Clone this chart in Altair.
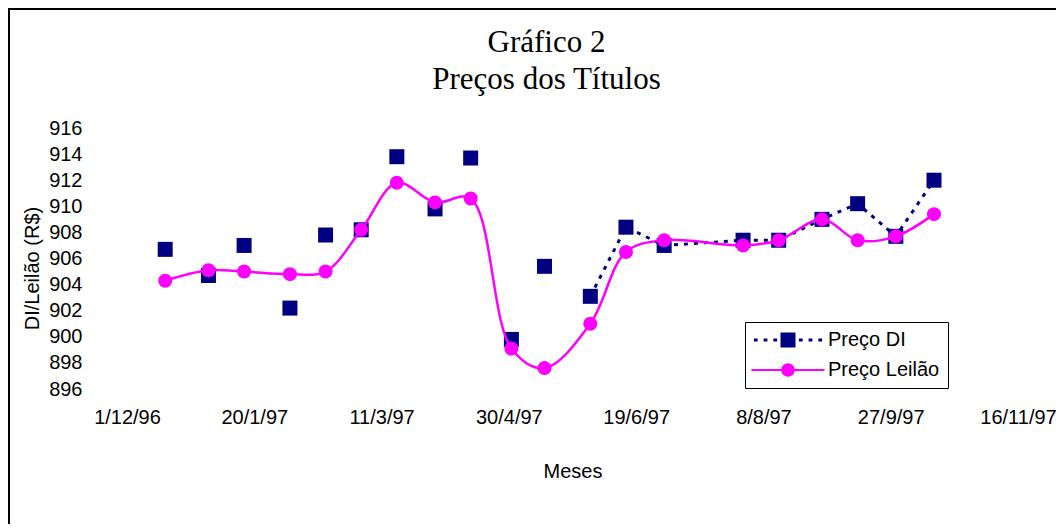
import math
import altair as alt
import pandas as pd

# ---- data ----
datas = ["1996-12-16", "1997-01-02", "1997-01-16", "1997-02-03", "1997-02-17",
         "1997-03-03", "1997-03-17", "1997-04-01", "1997-04-15", "1997-05-01",
         "1997-05-14", "1997-06-01", "1997-06-15", "1997-06-30", "1997-07-31",
         "1997-08-14", "1997-08-31", "1997-09-14", "1997-09-29", "1997-10-14"]
preco_di = [906.7, 904.7, 907.0, 902.2, 907.8, 908.2, 913.8, 909.8, 913.7, 899.8,
            905.4, 903.1, 908.4, 907.0, 907.4, 907.4, 909.0, 910.2, 907.7, 912.0]
preco_leilao = [904.3, 905.1, 905.0, 904.8, 905.0, 908.2, 911.8, 910.3, 910.6, 899.1,
                897.6, 901.0, 906.5, 907.4, 907.0, 907.4, 909.0, 907.4, 907.7, 909.4]
series = ["Preço DI", "Preço Leilão"]
cores = ["#000080", "#FF00FF"]
ticks_x = ["1996-12-01", "1997-01-20", "1997-03-11", "1997-04-30",
           "1997-06-19", "1997-08-08", "1997-09-27", "1997-11-16"]
ticks_y = list(range(896, 917, 2))
inicio_linha_di = "1997-06-01"


def dt(s):
    y, m, d = (int(v) for v in s.split("-"))
    return alt.DateTime(year=y, month=m, date=d, utc=True)


df_di = pd.DataFrame({"data": datas, "valor": preco_di})
df_le = pd.DataFrame({"data": datas, "valor": preco_leilao})
df_di_linha = df_di[df_di["data"] >= inicio_linha_di]

FONT = "Liberation Sans"

x_enc = alt.X(
    "data:T",
    scale=alt.Scale(type="utc", domain=[dt(ticks_x[0]), dt(ticks_x[-1])]),
    axis=alt.Axis(values=[dt(t) for t in ticks_x], format="%-d/%-m/%y", title="Meses",
                  labelFont=FONT, labelFontSize=20, labelColor="black",
                  titleFont=FONT, titleFontSize=20, titleFontWeight="normal", titleColor="black",
                  domain=False, ticks=False, grid=False, labelPadding=18, titlePadding=34,
                  labelOverlap=False, labelFlush=False),
)
y_enc = alt.Y(
    "valor:Q",
    scale=alt.Scale(domain=[896, 916], nice=False, zero=False),
    axis=alt.Axis(values=ticks_y, format="d", title="DI/Leilão (R$)",
                  labelFont=FONT, labelFontSize=20, labelColor="black",
                  titleFont=FONT, titleFontSize=20, titleFontWeight="normal", titleColor="black",
                  domain=False, ticks=False, grid=False, labelPadding=45, titlePadding=6,
                  titleY=140, labelOverlap=False),
)

linha_di = alt.Chart(df_di_linha).mark_line(
    color=cores[0], strokeWidth=3, strokeDash=[4, 6]
).encode(x=x_enc, y=y_enc)

pontos_di = alt.Chart(df_di).mark_point(
    shape="square", filled=True, size=225, color=cores[0], opacity=1
).encode(x=x_enc, y=y_enc)

linha_le = alt.Chart(df_le).mark_line(
    color=cores[1], strokeWidth=2.5, interpolate="catmull-rom"
).encode(x=x_enc, y=y_enc)

pontos_le = alt.Chart(df_le).mark_point(
    shape="circle", filled=True, size=196, color=cores[1], opacity=1
).encode(x=x_enc, y=y_enc)


# ---- legend symbols (line + marker) ----
def rect(x1, x2, h):
    return f"M{x1},{-h} L{x2},{-h} L{x2},{h} L{x1},{h} Z"


path_di = "M-1,-1 L1,-1 L1,1 L-1,1 Z"
for a, b in [(1.45, 1.95), (2.75, 3.25), (4.05, 4.55)]:
    path_di += " " + rect(-b, -a, 0.2) + " " + rect(a, b, 0.2)

rc = 0.9
pts = [(rc * math.cos(2 * math.pi * k / 28), rc * math.sin(2 * math.pi * k / 28)) for k in range(28)]
path_le = "M" + " L".join(f"{px:.3f},{py:.3f}" for px, py in pts) + " Z"
path_le += " " + rect(-4.87, -0.88, 0.14) + " " + rect(0.88, 4.87, 0.14)

leg = alt.Legend(
    title=None, orient="none", legendX=618, legendY=194,
    strokeColor="black", fillColor="white", padding=8, rowPadding=10,
    symbolSize=225, symbolStrokeWidth=0, symbolOffset=25, labelOffset=30,
    labelFont=FONT, labelFontSize=20, labelColor="black",
)
legenda = alt.Chart(pd.DataFrame({"serie": series})).mark_point(
    filled=True, opacity=1
).encode(
    color=alt.Color("serie:N", scale=alt.Scale(domain=series, range=cores), legend=leg),
    shape=alt.Shape("serie:N", scale=alt.Scale(domain=series, range=[path_di, path_le]), legend=leg),
).transform_filter("false")

moldura = alt.Chart(pd.DataFrame({"m": [0]})).mark_rect(
    filled=False, stroke="black", strokeWidth=2
).encode(x=alt.value(-118), y=alt.value(-119), x2=alt.value(2000), y2=alt.value(2000))

chart = alt.layer(
    moldura, linha_di, pontos_di, linha_le, pontos_le, legenda
).properties(
    width=891, height=261,
    background="white",
    padding={"left": 119, "top": 120, "right": 38, "bottom": 135},
    autosize=alt.AutoSizeParams(type="none"),
    title=alt.TitleParams(
        ["Gráfico 2", "Preços dos Títulos"], font="Liberation Serif", fontSize=31,
        fontWeight="normal", color="black", anchor="middle", dx=-26, offset=-88, lineHeight=37,
    ),
).configure_view(stroke=None, strokeWidth=0)

chart.save("out.html", embed_options={"renderer": "svg", "actions": False})
